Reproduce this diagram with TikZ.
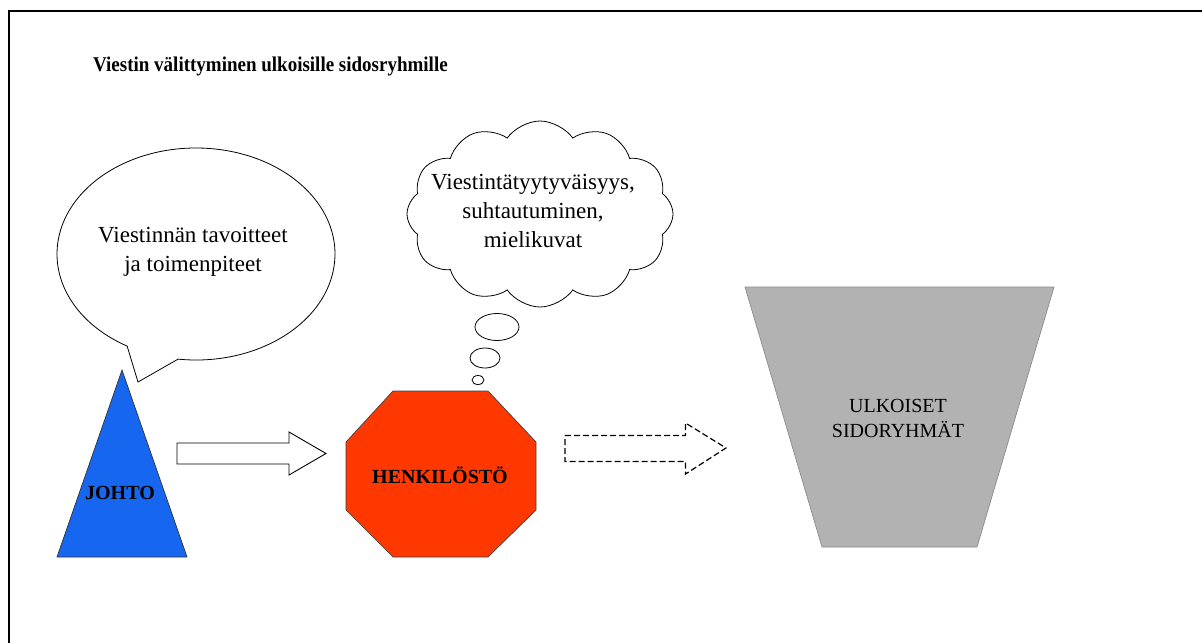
\documentclass[tikz,border=0pt]{standalone}
\usepackage{fontspec}
\setmainfont{Liberation Serif}
\usetikzlibrary{shapes.symbols,shapes.geometric}
\definecolor{johtoblue}{RGB}{22,102,240}
\definecolor{henkred}{RGB}{255,56,0}
\definecolor{ulkgray}{RGB}{178,178,178}
\begin{document}
\begin{tikzpicture}[x=1pt,y=1pt,
  txt/.style={font=\fontsize{23}{29}\selectfont, align=center, inner sep=0pt},
  caps/.style={font=\fontsize{20}{25}\selectfont, align=center, inner sep=0pt},
  outl/.style={draw=black, line width=0.8pt},
  blockarrow/.style={draw=black, line width=0.9pt, fill=white, line join=miter},
  thought/.style={draw=black, line width=0.8pt, fill=white, ellipse}
]
\useasboundingbox (0,0) rectangle (1202,-643);
\fill[white] (0,0) rectangle (1202,-643);
% frame
\draw[line width=2.2pt] (9,-643) -- (9,-11) -- (1202,-11);
% title
\node[anchor=base west, inner sep=0pt, font=\bfseries\fontsize{20}{24}\selectfont] (title) at (93,-71) {\scalebox{0.95}[1.05]{Viestin välittyminen ulkoisille sidosryhmille}};
% speech bubble
\draw[outl, fill=white] (196,-254) ++(262.6:139 and 106) coordinate (sb1)
  arc[start angle=262.6, end angle=600.3, x radius=139, y radius=106] coordinate (sb2)
  -- (138,-382) coordinate (sbtip) -- cycle;
\node[txt] (bubbletext) at (193,-252) {Viestinnän tavoitteet\\ja toimenpiteet};
% triangle JOHTO
\coordinate (tA) at (122,-370);
\coordinate (tB) at (57,-557);
\coordinate (tC) at (187,-557);
\draw[fill=johtoblue, draw=black!80, line width=0.7pt] (tA) -- (tB) -- (tC) -- cycle;
\node[caps, font=\bfseries\fontsize{20}{25}\selectfont] (johto) at (120,-493) {JOHTO};
% octagon HENKILÖSTÖ
\draw[fill=henkred, draw=black!75, line width=0.7pt]
  (393,-391) -- (488,-391) -- (536,-442) -- (536,-510) -- (488,-557) -- (393,-557) -- (346,-510) -- (346,-442) -- cycle;
\node[caps, font=\bfseries\fontsize{20}{25}\selectfont] (henk) at (440,-475) {HENKILÖSTÖ};
% trapezoid
\draw[fill=ulkgray, draw=black!45, line width=0.7pt]
  (745,-287) -- (1054,-287) -- (977,-547) -- (822,-547) -- cycle;
\node[caps] (ulk) at (898,-418) {ULKOISET\\SIDORYHMÄT};
% block arrows
\draw[blockarrow] (177,-443) -- (289,-443) -- (289,-432) -- (326,-453.5) -- (289,-475) -- (289,-464) -- (177,-464) -- cycle;
\draw[blockarrow, line width=1.2pt, dash pattern=on 6pt off 3pt] (565,-435.5) -- (685.5,-435.5) -- (685.5,-423) -- (726,-448) -- (685.5,-474) -- (685.5,-461.5) -- (565,-461.5) -- cycle;
% thought cloud
\node[cloud, draw=black, line width=0.8pt, fill=white, cloud puffs=12, cloud puff arc=110, aspect=1.45,
  minimum width=266pt, minimum height=186pt, inner sep=0pt] (cloud) at (540,-214) {};
\node[txt] (cloudtext) at (533,-211) {Viestintätyytyväisyys,\\suhtautuminen,\\mielikuvat};
\node[thought, minimum width=44pt, minimum height=27pt, inner sep=0pt] (th1) at (497,-327) {};
\node[thought, minimum width=30pt, minimum height=20pt, inner sep=0pt] (th2) at (485,-358) {};
\node[thought, minimum width=12pt, minimum height=9pt, inner sep=0pt] (th3) at (478,-380) {};
\end{tikzpicture}
\end{document}
